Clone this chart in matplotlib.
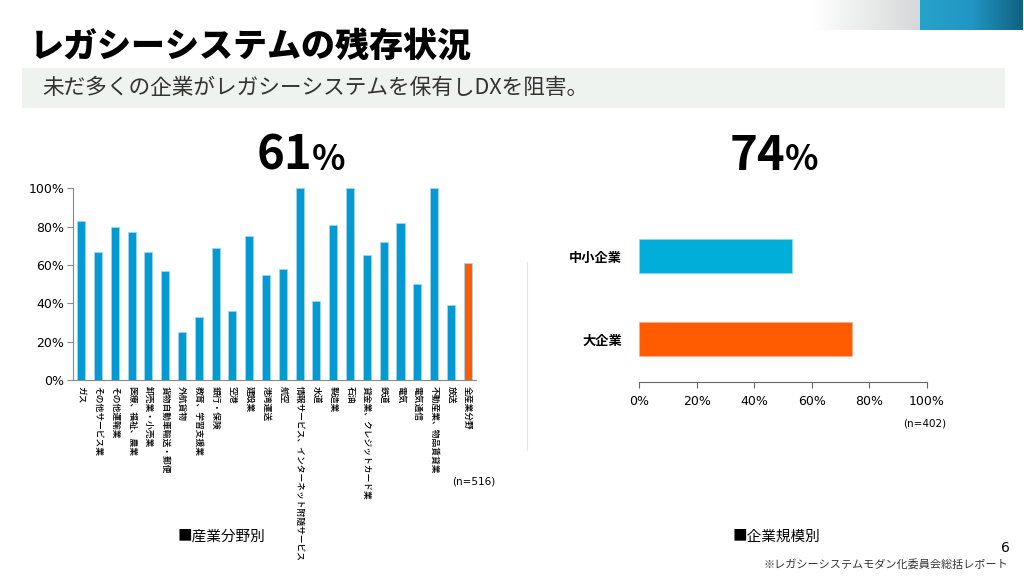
import matplotlib.pyplot as plt
import numpy as np
from matplotlib.patches import Rectangle
from matplotlib.colors import LinearSegmentedColormap

plt.rcParams['font.family'] = ['Noto Sans CJK JP', 'DejaVu Sans']

# industry breakdown (left chart)
industries = ['ガス', 'その他サービス業', 'その他運輸業', '医療、福祉、農業', '卸売業・小売業',
              '貨物自動車輸送・郵便', '外航貨物', '教育、学習支援業', '銀行・保険', '空港',
              '建設業', '港湾運送', '航空', '情報サービス、インターネット附随サービス', '水道',
              '製造業', '石油', '貸金業、クレジットカード業', '鉄道', '電気',
              '電気通信', '不動産業、物品賃貸業', '放送', '全産業分野']
industry_share = [0.83, 0.67, 0.80, 0.77, 0.67,
                  0.57, 0.25, 0.33, 0.69, 0.36,
                  0.75, 0.55, 0.58, 1.00, 0.41,
                  0.81, 1.00, 0.65, 0.72, 0.82,
                  0.50, 1.00, 0.39, 0.61]

# company size breakdown (right chart)
sizes = ['大企業', '中小企業']
size_share = [0.74, 0.53]

pct_ticks = [0, 0.2, 0.4, 0.6, 0.8, 1.0]
pct_labels = ['0%', '20%', '40%', '60%', '80%', '100%']

blue = '#0399D3'
orange = '#FF5B00'

fig = plt.figure(figsize=(10.24, 5.76), dpi=100)

# header decoration (top right gradients)
grad = np.linspace(0, 1, 256).reshape(1, -1)
ax_g1 = fig.add_axes([813 / 1024, 1 - 30 / 576, 107 / 1024, 30 / 576])
ax_g1.imshow(grad, aspect='auto', cmap=LinearSegmentedColormap.from_list('g', ['#FFFFFF', '#D6D7D8']))
ax_g1.axis('off')
ax_g2 = fig.add_axes([920 / 1024, 1 - 30 / 576, 103 / 1024, 30 / 576])
ax_g2.imshow(grad, aspect='auto', cmap=LinearSegmentedColormap.from_list('b', ['#27A3C9', '#2196C4', '#10627F']))
ax_g2.axis('off')

# title and subtitle
fig.text(30 / 1024, 1 - 46 / 576, 'レガシーシステムの残存状況', fontsize=24.5, fontweight='black',
         va='center', ha='left', color='black')
fig.patches.append(Rectangle((22 / 1024, 1 - 108 / 576), 983 / 1024, 40 / 576,
                             transform=fig.transFigure, facecolor='#EEF3F0', edgecolor='none', zorder=0))
fig.text(42 / 1024, 1 - 88 / 576, '未だ多くの企業がレガシーシステムを保有しDXを阻害。', fontsize=15.6,
         va='center', ha='left', color='#333333')

# big numbers: digits right-aligned, smaller % on same baseline
for xr, num in [(312, '61'), (785, '74')]:
    fig.text(xr / 1024, 1 - 170 / 576, num, fontsize=34, fontweight='bold',
             ha='right', va='baseline')
    fig.text(xr / 1024, 1 - 170 / 576, '%', fontsize=25, fontweight='bold',
             ha='left', va='baseline')

# left chart
ax1 = fig.add_axes([0.071, 0.3403, 0.394, 0.3328])
x = np.arange(len(industries))
colors = [blue] * (len(industries) - 1) + [orange]
ax1.bar(x, industry_share, width=0.48, color=colors, edgecolor='#9FD6EE', linewidth=0.6)
ax1.set_xlim(-0.5, len(industries) - 0.5)
ax1.set_ylim(0, 1.0)
ax1.set_yticks(pct_ticks)
ax1.set_yticklabels(pct_labels, family='DejaVu Sans', fontsize=9)
ax1.set_xticks(x)
ax1.set_xticklabels(industries, rotation=-90, fontsize=6.3, fontweight='medium',
                    ha='center', va='top')
ax1.tick_params(axis='x', length=0, pad=4)
ax1.tick_params(axis='y', length=4, color='#888888', pad=2)
for s in ['top', 'right']:
    ax1.spines[s].set_visible(False)
ax1.spines['left'].set_color('#888888')
ax1.spines['bottom'].set_color('#888888')
fig.text(452 / 1024, 1 - 482 / 576, '(n=516)', fontsize=7.5, family='DejaVu Sans',
         ha='left', va='center')
fig.text(178 / 1024, 1 - 537 / 576, '■産業分野別', fontsize=10.5, ha='left', va='center')

# right chart
ax2 = fig.add_axes([0.624, 0.3368, 0.28125, 0.2908])
ax2.barh([0, 1], size_share, height=0.41, color=[orange, '#00AEDA'],
         edgecolor=['#FFB08A', '#8FD8EE'], linewidth=0.6)
ax2.set_xlim(0, 1.0)
ax2.set_ylim(-0.518, 1.5)
ax2.set_xticks(pct_ticks)
ax2.set_xticklabels(pct_labels, family='DejaVu Sans', fontsize=9)
ax2.set_yticks([0, 1])
ax2.set_yticklabels(sizes, fontsize=9.5, fontweight='bold')
ax2.tick_params(axis='y', length=0, pad=12)
ax2.tick_params(axis='x', length=4, color='#666666', pad=5)
for s in ['top', 'right', 'left']:
    ax2.spines[s].set_visible(False)
ax2.spines['bottom'].set_color('#666666')
fig.text(903 / 1024, 1 - 423 / 576, '(n=402)', fontsize=7.5, family='DejaVu Sans',
         ha='left', va='center')
fig.text(733 / 1024, 1 - 537 / 576, '■企業規模別', fontsize=10.5, ha='left', va='center')
fig.lines.append(plt.Line2D([527 / 1024, 527 / 1024], [1 - 262 / 576, 1 - 450 / 576],
                            transform=fig.transFigure, color='#E6E6E6', linewidth=0.8))

# footer
fig.text(1010 / 1024, 1 - 548 / 576, '6', fontsize=10, family='DejaVu Sans', ha='right', va='center')
fig.text(1008 / 1024, 1 - 564 / 576, '※レガシーシステムモダン化委員会総括レポート', fontsize=8,
         ha='right', va='center', color='#333333')

fig.savefig('out.png', dpi=100)
